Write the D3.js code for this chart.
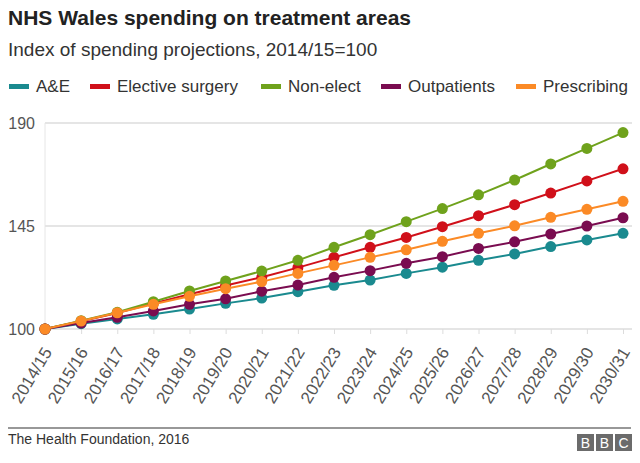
<!DOCTYPE html>
<html><head><meta charset="utf-8">
<script src="https://cdn.jsdelivr.net/npm/d3@7"></script>
<style>
html,body{margin:0;padding:0;background:#fff;}
svg{display:block;font-family:"Liberation Sans",Arial,Helvetica,sans-serif;}
</style></head>
<body>
<svg id="chart" width="640" height="463"></svg>
<script>
const categories = ["2014/15","2015/16","2016/17","2017/18","2018/19","2019/20","2020/21","2021/22","2022/23","2023/24","2024/25","2025/26","2026/27","2027/28","2028/29","2029/30","2030/31"];
const seriesNames = ["A&E","Elective surgery","Non-elect","Outpatients","Prescribing"];
const aeValues = [100,102.3,104.4,106.4,108.7,111.2,113.5,116.3,119.1,121.4,124.3,127,130,132.8,136,138.9,141.8];
const electiveValues = [100,103.4,107,111.2,115.2,119,122.6,126.8,131.3,135.7,140,144.7,149.5,154.3,159.4,164.7,170];
const nonElectValues = [100,103.6,107.3,111.9,116.6,121,125.3,130,135.7,141.2,146.9,152.6,158.6,165.1,172.1,178.9,185.8];
const outpatientValues = [100,102.6,105.1,107.9,110.8,113.2,116.5,119.2,122.6,125.5,128.7,131.6,135.2,138.1,141.5,145,148.6];
const prescribingValues = [100,103.5,107.1,110.8,114.3,117.6,120.7,124.3,127.8,131.3,134.6,138.3,141.8,145.1,148.8,152.3,155.8];
const yTicks = [100,145,190];
const colors = ["#1a8a8f","#d0101a","#6fa21c","#7a0c50","#fb8a26"];

const series = [aeValues, electiveValues, nonElectValues, outpatientValues, prescribingValues]
  .map((v,i)=>({name:seriesNames[i], color:colors[i], values:v}));

const svg = d3.select("#chart");

// Title & subtitle
svg.append("text").attr("x",8).attr("y",25).attr("font-size",21).attr("font-weight","bold")
  .attr("fill","#222").text("NHS Wales spending on treatment areas");
svg.append("text").attr("x",8).attr("y",56).attr("font-size",19)
  .attr("fill","#333").text("Index of spending projections, 2014/15=100");

// Legend
const legendX = [9,90,261,381,516];
const lg = svg.append("g");
series.forEach((s,i)=>{
  lg.append("rect").attr("x",legendX[i]).attr("y",84).attr("width",20).attr("height",5).attr("fill",s.color);
  lg.append("text").attr("x",legendX[i]+27).attr("y",92).attr("font-size",17).attr("fill","#333").text(s.name);
});

// Scales
const x = d3.scalePoint().domain(categories).range([45,623]);
const y = d3.scaleLinear().domain([100,190]).range([329,123]);

// Grid
const grid = svg.append("g");
grid.selectAll("line.g").data(yTicks).join("line")
  .attr("x1",45).attr("x2",632).attr("y1",d=>y(d)).attr("y2",d=>y(d))
  .attr("stroke","#dcdcdc").attr("stroke-width",1.5);
grid.append("line").attr("x1",45).attr("x2",45).attr("y1",y(190)).attr("y2",y(100))
  .attr("stroke","#e6e6e6").attr("stroke-width",1);

// Y axis labels
const yAxis = d3.axisLeft(y).tickValues(yTicks).tickSize(0).tickPadding(10);
const ya = svg.append("g").attr("transform","translate(45,0)").call(yAxis);
ya.select(".domain").remove();
ya.selectAll("text").attr("font-size",16).attr("fill","#555").attr("font-family","Liberation Sans, Arial, sans-serif");

// X axis
const xAxis = d3.axisBottom(x).tickSize(5).tickPadding(0);
const xa = svg.append("g").attr("transform",`translate(0,${y(100)})`).call(xAxis);
xa.select(".domain").remove();
xa.selectAll(".tick line").attr("stroke","#dcdcdc");
xa.selectAll("text").attr("font-size",17).attr("fill","#555")
  .attr("font-family","Liberation Sans, Arial, sans-serif")
  .attr("text-anchor","end").attr("y",0).attr("dy","0")
  .attr("transform","translate(7,23) rotate(-59)");

// Lines and dots
const line = d3.line().x((d,i)=>x(categories[i])).y(d=>y(d));
series.forEach(s=>{
  const g = svg.append("g");
  g.append("path").attr("d",line(s.values)).attr("fill","none").attr("stroke",s.color).attr("stroke-width",2);
  g.selectAll("circle").data(s.values).join("circle")
    .attr("cx",(d,i)=>x(categories[i])).attr("cy",d=>y(d)).attr("r",5.5).attr("fill",s.color);
});

// Footer
svg.append("line").attr("x1",8).attr("x2",631).attr("y1",428).attr("y2",428).attr("stroke","#333").attr("stroke-width",1.2);
svg.append("text").attr("x",8).attr("y",444).attr("font-size",14).attr("fill","#333").text("The Health Foundation, 2016");
const logo = svg.append("g");
["B","B","C"].forEach((c,i)=>{
  logo.append("rect").attr("x",577+i*19).attr("y",434).attr("width",17).attr("height",17).attr("fill","#6b6b6b");
  logo.append("text").attr("x",577+i*19+8.5).attr("y",448).attr("text-anchor","middle")
    .attr("font-size",14).attr("fill","#fff").text(c);
});
</script>
</body></html>
